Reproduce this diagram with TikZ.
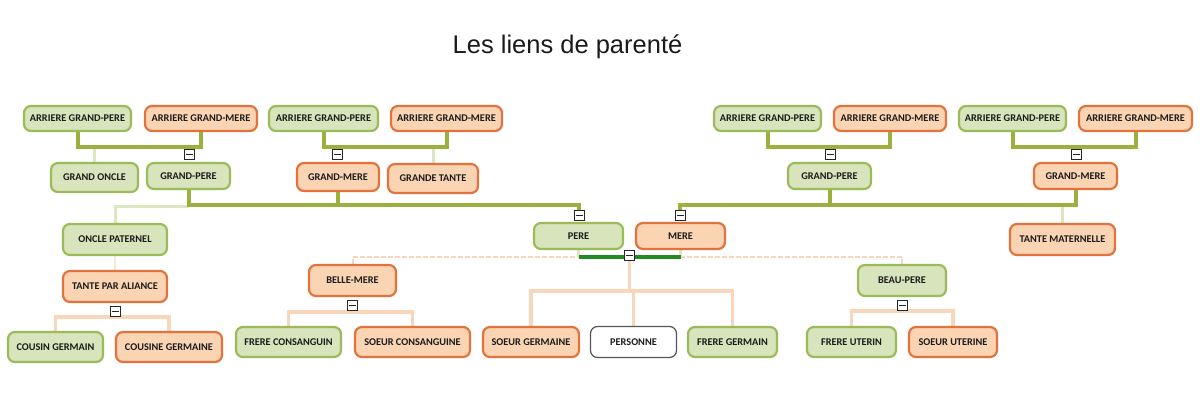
\documentclass[tikz,border=0pt]{standalone}
\usepackage{fontspec}
\setmainfont{Carlito}
\newfontfamily\titlefont{Liberation Sans}
\usetikzlibrary{backgrounds}
\definecolor{gfill}{HTML}{D8E4BC}
\definecolor{gborder}{HTML}{9BBB59}
\definecolor{ofill}{HTML}{FBD4B4}
\definecolor{oborder}{HTML}{E2733C}
\definecolor{wborder}{HTML}{555555}
\definecolor{olivec}{HTML}{9CB03E}
\definecolor{lgreen}{HTML}{DCE6C0}
\definecolor{peach}{HTML}{F9D5BA}
\definecolor{dgreen}{HTML}{228B22}
\definecolor{txt}{HTML}{1A1A1A}
\tikzset{
  base/.style={rounded corners=7pt, line width=2.2pt, inner sep=0pt,
    font=\bfseries\fontsize{10.3}{12}\selectfont, text=txt},
  gbox/.style={base, draw=gborder, fill=gfill},
  obox/.style={base, draw=oborder, fill=ofill},
  wbox/.style={base, draw=wborder, fill=white, line width=1.2pt},
  sz/.style 2 args={minimum width=#1, minimum height=#2},
  minus/.style={draw=black!85, fill=white, line width=0.8pt, minimum size=10pt, inner sep=0pt,
    path picture={\draw[line width=1pt, black!85]
      ([xshift=-3.5pt]path picture bounding box.center) -- ([xshift=3.5pt]path picture bounding box.center);}},
  ol/.style={draw=olivec, line width=4pt},
  lg/.style={draw=lgreen, line width=3pt},
  pk/.style={draw=peach, line width=3.5pt},
  pkd/.style={draw=peach, line width=2pt, dash pattern=on 5pt off 2pt},
  dg/.style={draw=dgreen, line width=4pt},
}
\begin{document}
\begin{tikzpicture}[x=1pt,y=-1pt]
\useasboundingbox (0,0) rectangle (1200,413);

\node[anchor=base, font=\titlefont\fontsize{25.5}{30}\selectfont, text=txt] (title) at (567.5,53) {Les liens de parenté};

% row 1
\node[gbox, sz={107pt}{25pt}] (agp1) at (77.5,118.5) {ARRIERE GRAND-PERE};
\node[obox, sz={112pt}{25pt}] (agm1) at (201,118.5) {ARRIERE GRAND-MERE};
\node[gbox, sz={109pt}{25pt}] (agp2) at (323.5,118.5) {ARRIERE GRAND-PERE};
\node[obox, sz={111pt}{25pt}] (agm2) at (446.5,118.5) {ARRIERE GRAND-MERE};
\node[gbox, sz={107pt}{25pt}] (agp3) at (767.5,118.5) {ARRIERE GRAND-PERE};
\node[obox, sz={112pt}{25pt}] (agm3) at (890,118.5) {ARRIERE GRAND-MERE};
\node[gbox, sz={107pt}{25pt}] (agp4) at (1012.5,118.5) {ARRIERE GRAND-PERE};
\node[obox, sz={113pt}{25pt}] (agm4) at (1135.5,118.5) {ARRIERE GRAND-MERE};

% row 2
\node[gbox, sz={87pt}{29pt}] (gonc) at (94.5,177.5) {GRAND ONCLE};
\node[gbox, sz={83pt}{26pt}] (gpl) at (188.5,176) {GRAND-PERE};
\node[obox, sz={82pt}{28pt}] (gml) at (338,177) {GRAND-MERE};
\node[obox, sz={90pt}{29pt}] (gtante) at (433,178.5) {GRANDE TANTE};
\node[gbox, sz={83pt}{26pt}] (gpr) at (829.5,176) {GRAND-PERE};
\node[obox, sz={83pt}{26pt}] (gmr) at (1075.5,176) {GRAND-MERE};

% row 3
\node[gbox, sz={104pt}{31pt}] (oncle) at (115,239.5) {ONCLE PATERNEL};
\node[gbox, sz={89pt}{26pt}] (pere) at (578.5,236) {PERE};
\node[obox, sz={89pt}{26pt}] (mere) at (680.5,236) {MERE};
\node[obox, sz={105pt}{31pt}] (tmat) at (1062.5,239.5) {TANTE MATERNELLE};

% row 4
\node[obox, sz={104pt}{31pt}] (tpa) at (115,286.5) {TANTE PAR ALIANCE};
\node[obox, sz={87pt}{31pt}] (bm) at (352.5,280.5) {BELLE-MERE};
\node[gbox, sz={88pt}{31pt}] (bp) at (902,280.5) {BEAU-PERE};

% row 5
\node[gbox, sz={95pt}{30pt}] (cg) at (55.5,347) {COUSIN GERMAIN};
\node[obox, sz={106pt}{30pt}] (cgf) at (169,347) {COUSINE GERMAINE};
\node[gbox, sz={105pt}{30pt}] (fc) at (288.5,342) {FRERE CONSANGUIN};
\node[obox, sz={115pt}{30pt}] (sc) at (412.5,342) {SOEUR CONSANGUINE};
\node[obox, sz={96pt}{30pt}] (sg) at (531,342) {SOEUR GERMAINE};
\node[wbox, sz={86pt}{31pt}] (pers) at (633.5,342) {PERSONNE};
\node[gbox, sz={89pt}{30pt}] (fg) at (732.5,342) {FRERE GERMAIN};
\node[gbox, sz={89pt}{30pt}] (fu) at (851.5,342) {FRERE UTERIN};
\node[obox, sz={88pt}{30pt}] (su) at (953,342) {SOEUR UTERINE};

% minus boxes
\node[minus] (m1) at (189,154.5) {};
\node[minus] (m2) at (337,154.5) {};
\node[minus] (m3) at (830,154.5) {};
\node[minus] (m4) at (1076,154.5) {};
\node[minus] (mp) at (579,215.5) {};
\node[minus] (mm) at (680,215.5) {};
\node[minus] (mpm) at (629.5,255) {};
\node[minus] (mt) at (115,311) {};
\node[minus] (mbm) at (352,305.5) {};
\node[minus] (mbp) at (902,305.5) {};

\begin{pgfonlayer}{background}
% ancestors
\draw[lg] (gonc.north) -- (gonc.north |- 0,147);
\draw[lg] (gtante.north) -- (gtante.north |- 0,147);
\draw[ol] (agp1.south) |- (agm1.south |- 0,147) -- (agm1.south);
\draw[ol] (agp2.south) |- (agm2.south |- 0,147) -- (agm2.south);
\draw[ol] (agp3.south) |- (agm3.south |- 0,147) -- (agm3.south);
\draw[ol] (agp4.south) |- (agm4.south |- 0,147) -- (agm4.south);
\draw[ol] (m1.north) -- (m1.north |- 0,147);
\draw[ol] (m2.north) -- (m2.north |- 0,147);
\draw[ol] (m3.north) -- (m3.north |- 0,147);
\draw[ol] (m4.north) -- (m4.north |- 0,147);
% grandparents
\draw[lg] (oncle.north) |- (gpl.south |- 0,206);
\draw[lg] (tmat.north) -- (tmat.north |- 0,205);
\draw[ol] (gpl.south) |- (mp.north |- 0,205) -- (mp.north);
\draw[ol] (gml.south) -- (gml.south |- 0,205);
\draw[ol] (gmr.south) |- (mm.north |- 0,205) -- (mm.north);
\draw[ol] (gpr.south) -- (gpr.south |- 0,205);
% oncle / tante
\draw[draw=peach!60, line width=2pt] (oncle.south) -- (tpa.north);
\draw[pk] (cg.north) |- (cgf.north |- 0,317) -- (cgf.north);
\draw[pk] (mt.south) -- (mt.south |- 0,317);
% parents
\draw[pkd] (bm.north) |- (pere.south |- 0,257);
\draw[pkd] (bp.north) |- (mere.south |- 0,257);
\draw[lg] (pere.south) -- (pere.south |- 0,257);
\draw[lg] (mere.south) -- (mere.south |- 0,257);
\draw[dg] (pere.south |- 0,257) -- (mere.south |- 0,257);
\draw[pk] (mpm.south) -- (mpm.south |- 0,291);
\draw[pk] (sg.north) |- (fg.north |- 0,291) -- (fg.north);
\draw[pk] (pers.north) -- (pers.north |- 0,291);
% step parents
\draw[pk] (fc.north) |- (sc.north |- 0,312) -- (sc.north);
\draw[pk] (mbm.south) -- (mbm.south |- 0,312);
\draw[pk] (fu.north) |- (su.north |- 0,311) -- (su.north);
\draw[pk] (mbp.south) -- (mbp.south |- 0,311);
\end{pgfonlayer}
\end{tikzpicture}
\end{document}
